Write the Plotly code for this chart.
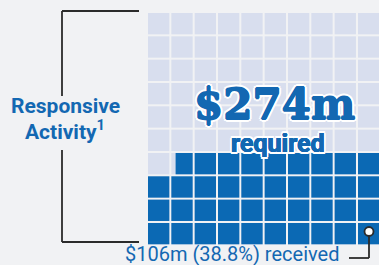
import plotly.graph_objects as go

# ---- data ----
label_lines = ["Responsive", "Activity"]
required_musd = 274
received_musd = 106
received_pct = 38.8
grid_cols = 10
grid_rows = 10

# ---- style ----
W, H = 379, 265
BG = "#f1f2f4"
LIGHT = "#d8deee"
BLUE = "#0b69b4"
TXT_BLUE = "#1368b2"
DARK = "#2b2b2b"

pitch_px = 23.33
grid_left_px = 148.0
grid_bottom_px = 244.3
gap = 2.0 / pitch_px

x_range = [-grid_left_px / pitch_px, (W - grid_left_px) / pitch_px]
y_range = [-(H - grid_bottom_px) / pitch_px, grid_bottom_px / pitch_px]

fig = go.Figure()
shapes = []
n_filled = received_pct / 100 * grid_cols * grid_rows
for k in range(grid_cols * grid_rows):
    row = k // grid_cols
    col = grid_cols - 1 - (k % grid_cols)
    x0, x1 = col, col + 1 - gap
    yb0, yb1 = row, row + 1 - gap
    frac = max(0.0, min(1.0, n_filled - k))
    shapes.append(dict(type="rect", xref="x", yref="y", x0=x0, x1=x1, y0=yb0, y1=yb1,
                       fillcolor=LIGHT, line=dict(width=0), layer="below"))
    if frac > 0:
        shapes.append(dict(type="rect", xref="x", yref="y",
                           x0=x1 - frac * (x1 - x0), x1=x1, y0=yb0, y1=yb1,
                           fillcolor=BLUE, line=dict(width=0), layer="below"))

def px(xp):
    return xp / W

def py(yp):
    return 1 - yp / H

line = dict(color=DARK, width=1.8)
shapes += [
    dict(type="line", xref="paper", yref="paper", x0=px(62), x1=px(139), y0=py(11), y1=py(11), line=line),
    dict(type="line", xref="paper", yref="paper", x0=px(62), x1=px(62), y0=py(11), y1=py(96), line=line),
    dict(type="line", xref="paper", yref="paper", x0=px(62), x1=px(62), y0=py(150), y1=py(242), line=line),
    dict(type="line", xref="paper", yref="paper", x0=px(62), x1=px(139), y0=py(242), y1=py(242), line=line),
    dict(type="line", xref="paper", yref="paper", x0=px(349), x1=px(369), y0=py(258), y1=py(258), line=line),
    dict(type="line", xref="paper", yref="paper", x0=px(369), x1=px(369), y0=py(258), y1=py(236), line=line),
    dict(type="circle", xref="paper", yref="paper", x0=px(364.5), x1=px(373.5), y0=py(227), y1=py(236),
         fillcolor="white", line=dict(color=DARK, width=1.8)),
]

def outline(thick_color=None, t=0.0, w=2.2):
    parts = []
    if thick_color:
        parts += [f"{dx}px {dy}px 0 {thick_color}" for dx, dy in [(t, 0), (-t, 0), (0, t), (0, -t)]]
    d = round(w * 0.72, 2)
    parts += [f"{dx}px {dy}px 0 #fff" for dx, dy in
              [(w, 0), (-w, 0), (0, w), (0, -w), (d, d), (-d, d), (d, -d), (-d, -d)]]
    return ", ".join(parts)

def a(x, y, text, font, xanchor="center"):
    return dict(x=px(x), y=py(y), xref="paper", yref="paper", text=text, showarrow=False,
                xanchor=xanchor, yanchor="middle", font=font)

ann = [
    a(65, 106, f"<b>{label_lines[0]}</b>", dict(family="Roboto", size=21, color=TXT_BLUE)),
    a(65, 130, f"<b>{label_lines[1]}<sup>1</sup></b>", dict(family="Roboto", size=21, color=TXT_BLUE)),
    a(274, 104, f"<b>${required_musd}m</b>",
      dict(family="DejaVu Serif", size=42, color=TXT_BLUE, shadow=outline(TXT_BLUE, 0.7, 2.8))),
    a(278, 143, "<b>required</b>",
      dict(family="Roboto", size=25, color=TXT_BLUE, shadow=outline(TXT_BLUE, 0.4, 2.2))),
    a(341, 254, f"${received_musd}m ({received_pct}%) received",
      dict(family="Roboto", size=20, color=TXT_BLUE), xanchor="right"),
]

fig.update_layout(
    width=W, height=H, margin=dict(l=0, r=0, t=0, b=0),
    paper_bgcolor=BG, plot_bgcolor=BG,
    xaxis=dict(range=x_range, visible=False, fixedrange=True),
    yaxis=dict(range=y_range, visible=False, fixedrange=True),
    shapes=shapes, annotations=ann, showlegend=False,
)
fig.write_html("out.html", config={"displayModeBar": False},
               post_script="document.body.style.margin='0';document.body.style.overflow='hidden';")
